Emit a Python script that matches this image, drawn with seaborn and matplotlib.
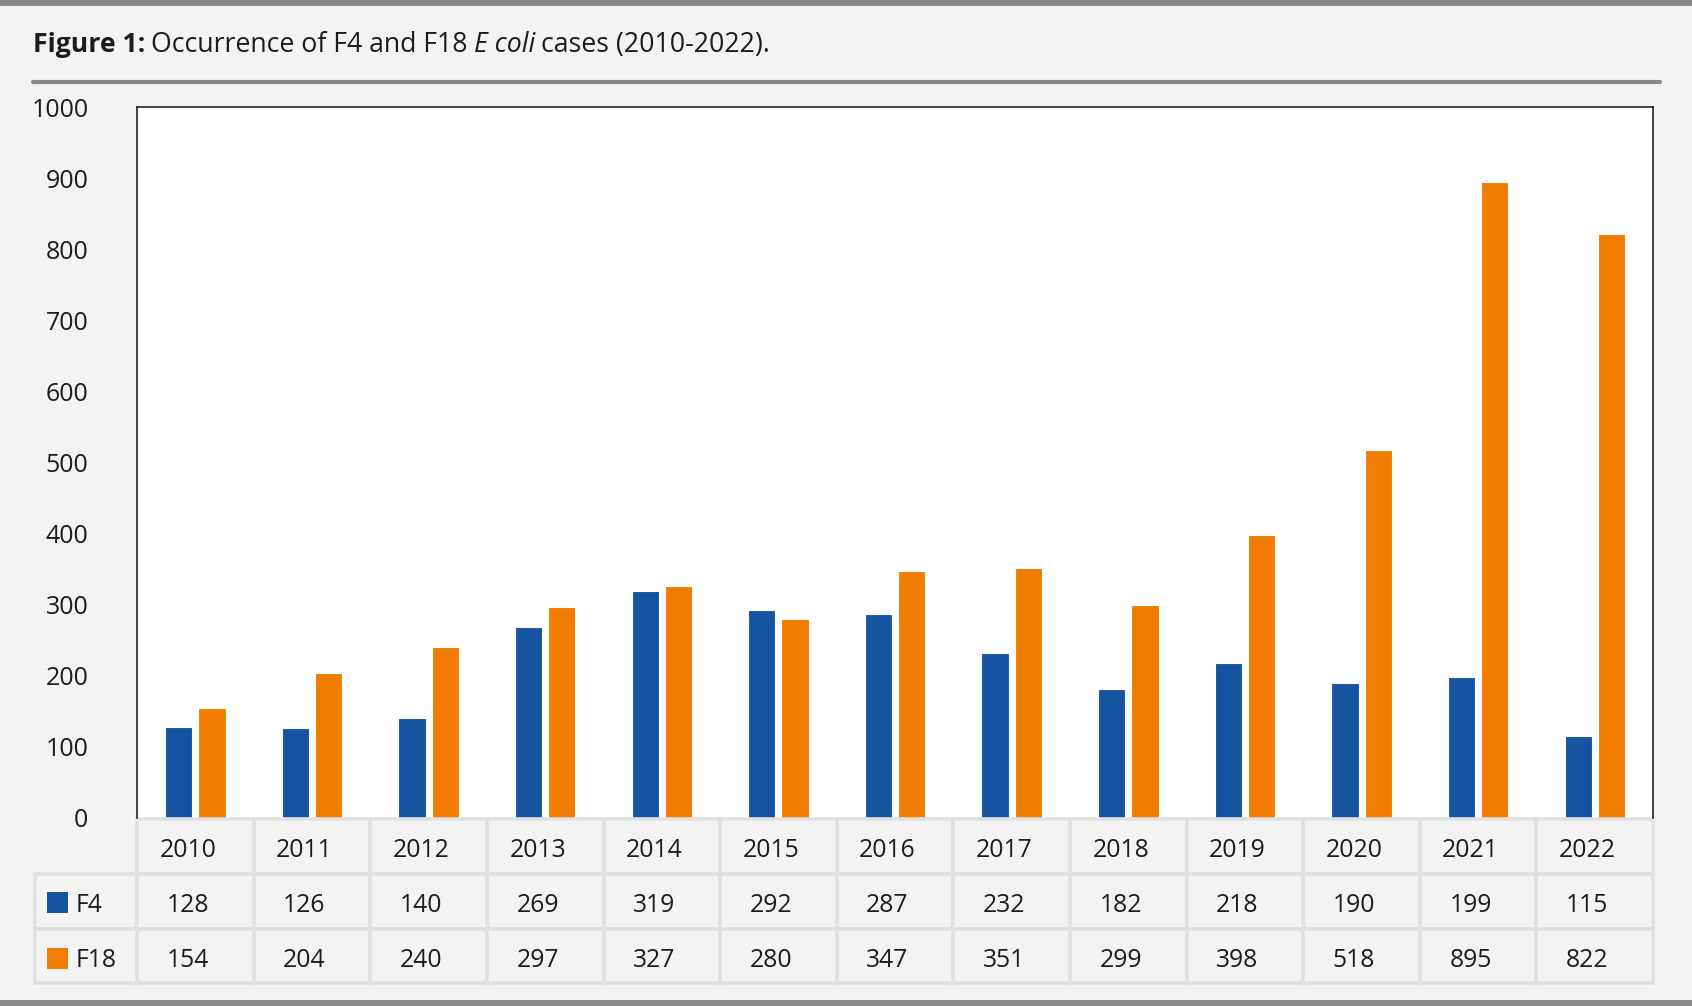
import matplotlib.pyplot as plt
import matplotlib.transforms as mtransforms
from matplotlib.patches import Rectangle
import seaborn as sns
import pandas as pd

years = ['2010', '2011', '2012', '2013', '2014', '2015', '2016',
         '2017', '2018', '2019', '2020', '2021', '2022']
f4 = [128, 126, 140, 269, 319, 292, 287, 232, 182, 218, 190, 199, 115]
f18 = [154, 204, 240, 297, 327, 280, 347, 351, 299, 398, 518, 895, 822]
series_names = ['F4', 'F18']
series_colors = ['#1653a1', '#f07d00']
y_ticks = list(range(0, 1001, 100))

df = pd.DataFrame({
    'Year': years * 2,
    'Type': ['F4'] * len(years) + ['F18'] * len(years),
    'Cases': f4 + f18,
})

sns.set_style('white')
plt.rcParams['font.family'] = ['Open Sans', 'DejaVu Sans']
text_col = '#1c1c1c'
bg = '#f3f3f3'
grid_col = '#e1e1e1'
bar_gray = '#888888'
fs = 17.8

fig = plt.figure(figsize=(16.92, 10.06), dpi=100, facecolor=bg)
ax = fig.add_axes([0.081, 0.1869, 0.977 - 0.081, 0.8936 - 0.1869])
ax.set_facecolor('white')

sns.barplot(data=df, x='Year', y='Cases', hue='Type', order=years,
            hue_order=series_names, palette=series_colors, saturation=1,
            width=0.57, gap=0.18, edgecolor='white', linewidth=0.8, ax=ax)
ax.legend_.remove()

ax.set_xlim(-0.5, len(years) - 0.5)
ax.set_ylim(0, 1000)
ax.set_yticks(y_ticks)
ax.set_yticklabels([str(t) for t in y_ticks], fontsize=fs + 0.2, color=text_col)
ax.tick_params(axis='y', length=0, pad=35)
ax.set_xticks([])
ax.set_xlabel('')
ax.set_ylabel('')
for side in ['left', 'top', 'right']:
    ax.spines[side].set_color('#111111')
    ax.spines[side].set_linewidth(1.1)
ax.spines['bottom'].set_visible(False)

# data table under the plot, columns lined up with the bars
trans = mtransforms.blended_transform_factory(ax.transData, fig.transFigure)
row_edges = [0.1859, 0.1312, 0.0765, 0.0229]
row_mid = [0.1545, 0.0998, 0.0451]
leg_left = -1.375
dx = -0.065

for i, yr in enumerate(years):
    for r in range(3):
        ax.add_patch(Rectangle((i - 0.5, row_edges[r + 1]), 1,
                               row_edges[r] - row_edges[r + 1],
                               transform=trans, facecolor=bg,
                               edgecolor=grid_col, linewidth=2.6,
                               clip_on=False, zorder=1))
    ax.text(i + dx, row_mid[0], yr, transform=trans, ha='center', va='center',
            fontsize=fs, color=text_col, clip_on=False)
    ax.text(i + dx, row_mid[1], str(f4[i]), transform=trans, ha='center',
            va='center', fontsize=fs, color=text_col, clip_on=False)
    ax.text(i + dx, row_mid[2], str(f18[i]), transform=trans, ha='center',
            va='center', fontsize=fs, color=text_col, clip_on=False)

for r, (name, col) in enumerate(zip(series_names, series_colors)):
    ax.add_patch(Rectangle((leg_left, row_edges[r + 2]), -0.5 - leg_left,
                           row_edges[r + 1] - row_edges[r + 2],
                           transform=trans, facecolor=bg,
                           edgecolor=grid_col, linewidth=2.6,
                           clip_on=False, zorder=1))
    sq = 21 / 1006
    fig.patches.append(Rectangle((0.0278, row_mid[r + 1] + 0.0026 - sq / 2),
                                 21 / 1692, sq, transform=fig.transFigure,
                                 facecolor=col, edgecolor='none'))
    fig.text(0.0445, row_mid[r + 1], name, ha='left', va='center',
             fontsize=fs, color=text_col)

# title with bold / regular / italic runs
renderer = fig.canvas.get_renderer()
pieces = [('Figure 1:', 'bold', 'normal'),
          (' Occurrence of F4 and F18 ', 'normal', 'normal'),
          ('E coli', 'normal', 'italic'),
          (' cases (2010-2022).', 'normal', 'normal')]
space_w = 6 / 1692
x = 0.0195
for txt, weight, style in pieces:
    if txt.startswith(' '):
        x += space_w
    t = fig.text(x, 0.955, txt.strip(), ha='left', va='center', fontsize=19.2,
                 fontweight=weight, fontstyle=style, color=text_col)
    x += t.get_window_extent(renderer).width / 1692
    if txt.endswith(' '):
        x += space_w

# grey rules
fig.add_artist(plt.Line2D([0.0195, 0.981], [0.9185, 0.9185],
                          transform=fig.transFigure, color=bar_gray, lw=3))
fig.add_artist(Rectangle((0, 0.994), 1, 0.006, transform=fig.transFigure,
                         facecolor=bar_gray, edgecolor='none'))
fig.add_artist(Rectangle((0, 0), 1, 0.006, transform=fig.transFigure,
                         facecolor=bar_gray, edgecolor='none'))

fig.savefig('out.png', dpi=100, facecolor=bg)
